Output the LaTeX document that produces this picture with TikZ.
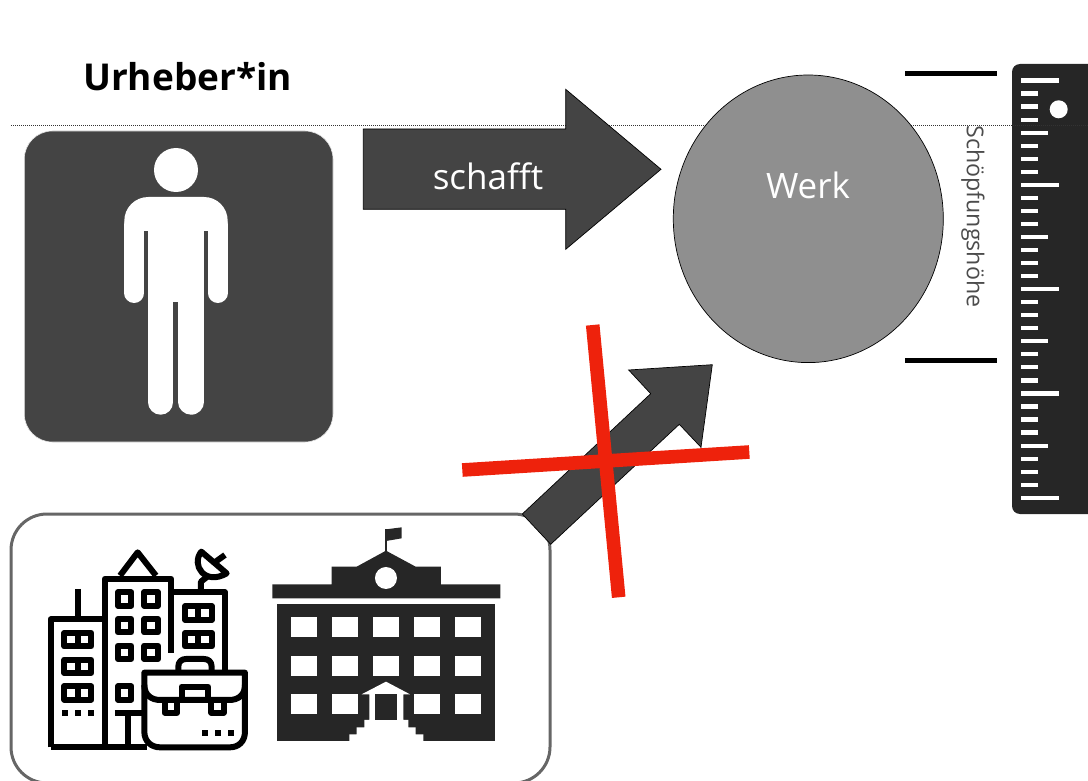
\documentclass[tikz,border=0pt]{standalone}
\usepackage{fontspec}
\setmainfont{Open Sans}
\definecolor{darkgrey}{HTML}{444444}
\definecolor{midgrey}{HTML}{8F8F8F}
\definecolor{rulergrey}{HTML}{262626}
\definecolor{crossred}{HTML}{EE220C}
\tikzset{
	label/.style={font=\fontsize{35}{40}\selectfont, text=white, inner sep=0pt},
	blockarrow/.style={fill=darkgrey, draw=black, line width=.7pt, line join=miter},
	crossbar/.style={draw=crossred, line width=13.6pt},
	limit/.style={draw=black, line width=5pt},
	figure/.style={fill=white},
	office/.style={draw=black, line width=6pt, line join=round},
	window/.style={office},
	school/.style={fill=rulergrey},
	pane/.style={fill=white}
}

\begin{document}
\begin{tikzpicture}[x=1pt,y=-1pt]
	\useasboundingbox (0,0) rectangle (1088,781);
	\clip (0,0) rectangle (1088,781);

	\fill[rulergrey, rounded corners=8pt] (1012,64) rectangle (1110,514);
	\foreach \i in {0,8,16,24,32}
		\fill[white] (1021.3,78.4+13.04*\i) rectangle (1059,82.6+13.04*\i);
	\foreach \i in {4,12,20,28}
		\fill[white] (1021.3,78.4+13.04*\i) rectangle (1047.7,82.6+13.04*\i);
	\foreach \i in {1,2,3,5,6,7,9,10,11,13,14,15,17,18,19,21,22,23,25,26,27,29,30,31}
		\fill[white] (1021.3,78.4+13.04*\i) rectangle (1037.7,82.6+13.04*\i);
	\fill[white] (1058.7,109.3) circle (9);

	\draw[black!80, line width=.9pt, dash pattern=on 1pt off 1pt] (11,125.6) -- (1088,125.6);

	\node[font=\fontsize{37}{40}\selectfont\bfseries, inner sep=0pt] (author) at (187.5,77) {Urheber*in};

	\path[fill=darkgrey, draw=black!10, line width=.6pt, rounded corners=28pt] (24.3,131) rectangle (333,442);
	\fill[figure] (176,170) circle (22);
	\fill[figure] (124.3,231) -- (124.3,221) .. controls (124.3,207.7) and (134.9,197) .. (148.3,197)
		-- (204,197) .. controls (217.3,197) and (227.7,207.7) .. (227.7,221) -- (227.7,231) -- cycle;
	\fill[figure] (148.3,225) rectangle (204,302);
	\draw[white, line width=20pt, line cap=round] (134.2,225) -- (134.2,293);
	\draw[white, line width=20pt, line cap=round] (217.8,225) -- (217.8,293);
	\draw[white, line width=25pt, line cap=round] (160.8,295) -- (160.8,402.2);
	\draw[white, line width=25.6pt, line cap=round] (191.2,295) -- (191.2,401.9);

	\path[blockarrow] (363.3,129) -- (565.7,129) -- (565.7,89.3) -- (661,169.3) -- (565.7,249.3) -- (565.7,209.3) -- (363.3,209.3) -- cycle;
	\node[label] (creates) at (488,176) {schafft};

	\path[fill=midgrey, draw=black, line width=.7pt] (808.3,218.8) ellipse (135 and 143.8);
	\node[label] (work) at (808,185) {Werk};

	\path[limit] (905,74) -- (996.7,74);
	\path[limit] (905,360) -- (996.7,360);
	\node[font=\fontsize{23.2}{26}\selectfont, text=black!70, rotate=-90, inner sep=0pt] (height) at (973,216.5) {Schöpfungshöhe};

	\path[draw=black!60, line width=3pt, rounded corners=36pt] (11,514) rectangle (550,783);

	\path[blockarrow] (522.3,514) -- (650.7,393.7) -- (628.7,370) -- (712.3,364.7) -- (701,447.3) -- (679.3,424.3) -- (550.7,544.3) -- cycle;

	\begin{scope}[shift={(0,510)},x=.3333pt,y=-.3333pt]
		\path[office] (152,712) -- (152,328) -- (314,328);
		\path[office] (233,237) -- (233,328);
		\path[office] (152,712) -- (440,712);
		\path[office] (314,712) -- (314,207) -- (514,207) -- (514,428);
		\path[office] (360,197) -- (413,127) -- (468,197);
		\path[office] (514,247) -- (675,247) -- (675,480);
		\path[office] (603,240) -- (603,215) -- (622,200);
		\path[office, fill=white] (604,125) .. controls (572,165) and (615,228) .. (680,190) -- cycle;
		\path[office] (640,160) -- (675,135);
		\foreach \y in {369,449,529} {
			\path[window] (193,\y) rectangle (274,\y+40);
			\path[office] (233,\y) -- (233,\y+40);
		}
		\foreach \y in {289,369} {
			\path[window] (555,\y) rectangle (636,\y+40);
			\path[office] (595,\y) -- (595,\y+40);
		}
		\foreach \y in {247,327,407} {
			\path[window] (354,\y) rectangle (394,\y+40);
			\path[window] (433,\y) rectangle (474,\y+40);
		}
		\path[window] (354,529) rectangle (394,569);
		\foreach \x in {185,225,265}
			\fill[black] (\x,601) rectangle (\x+18,619);
		\path[office] (345,610) -- (430,610);
		\path[office] (383,610) -- (383,712);
		\path[office] (535,488) -- (535,470) .. controls (535,455) and (545,447) .. (558,447) -- (612,447) .. controls (625,447) and (635,455) .. (635,470) -- (635,488);
		\path[office, fill=white] (433,488) -- (735,488) -- (735,665) .. controls (735,695) and (715,712) .. (690,712) -- (480,712) .. controls (455,712) and (433,695) .. (433,665) -- cycle;
		\path[office] (433,525) .. controls (433,555) and (455,570) .. (480,570) -- (688,570) .. controls (715,570) and (735,555) .. (735,525);
		\path[office] (545,570) -- (545,530) -- (625,530) -- (625,570);
		\path[office] (494,570) -- (494,608) -- (531,608) -- (531,570);
		\path[office] (634,570) -- (634,608) -- (671,608) -- (671,570);
		\foreach \x in {605,645,685}
			\fill[black] (\x,659) rectangle (\x+18,677);
	\end{scope}

	\begin{scope}[shift={(260,510)},x=.3333pt,y=-.3333pt]
		\fill[school] (374,125) rectangle (382,58);
		\fill[school] (378,58) -- (425,52) -- (425,85) -- (378,93) -- cycle;
		\fill[school] (215,170) -- (290,170) -- (378,122) -- (467,170) -- (543,170) -- (543,223) -- (721,223) -- (721,265) -- (37,265) -- (37,223) -- (215,223) -- cycle;
		\fill[pane] (378,204) circle (33);
		\fill[school] (52,282) rectangle (705,693);
		\foreach \y in {322,438,553}
			\foreach \x/\w in {94/78,216/79,339/78,461/79,584/78}
				\fill[pane] (\x,\y) rectangle (\x+\w,\y+60);
		\fill[pane] (268,693) -- (268,673) -- (290,673) -- (290,652) -- (313,652) -- (313,630) -- (328,630) -- (328,553) -- (305,553) -- (378,515) -- (450,553) -- (430,553) -- (430,630) -- (445,630) -- (445,652) -- (467,652) -- (467,673) -- (490,673) -- (490,693) -- cycle;
		\fill[school] (345,553) rectangle (412,630);
	\end{scope}

	\path[crossbar] (592.7,325) -- (618.7,597.3);
	\path[crossbar] (462.3,470) -- (749.3,452);
\end{tikzpicture}
\end{document}
